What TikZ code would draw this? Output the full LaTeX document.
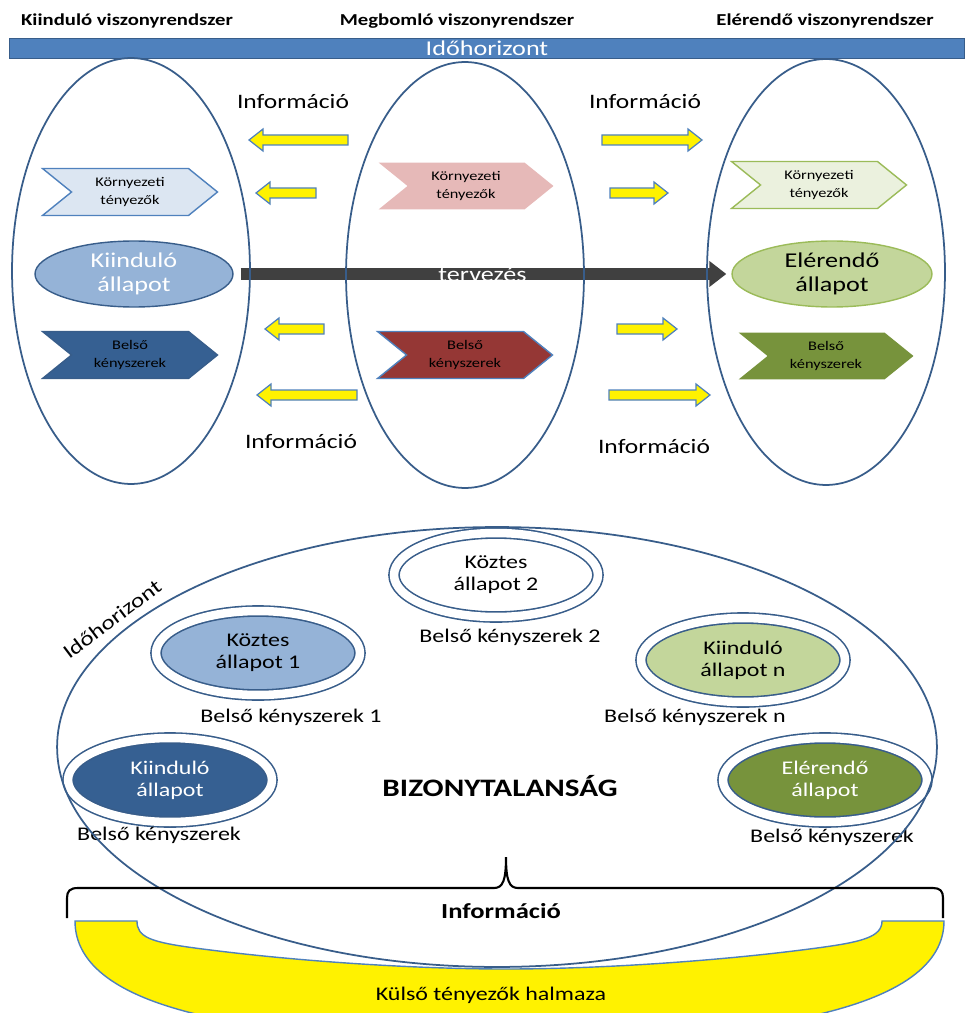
\documentclass[tikz,border=0pt]{standalone}
\usepackage{fontspec}
\setmainfont[FakeStretch=1.24]{Carlito}
\usetikzlibrary{shapes.geometric,shapes.symbols,arrows.meta,positioning}
\definecolor{hblue}{RGB}{79,129,189}
\definecolor{hline}{RGB}{56,93,138}
\definecolor{hbluelight}{RGB}{220,230,242}
\definecolor{hbluemid}{RGB}{149,179,215}
\definecolor{hbluedark}{RGB}{54,96,146}
\definecolor{hredlight}{RGB}{230,185,184}
\definecolor{hreddark}{RGB}{149,55,53}
\definecolor{hgreen}{RGB}{155,187,89}
\definecolor{hgreenlight}{RGB}{235,241,222}
\definecolor{hgreenmid}{RGB}{195,214,155}
\definecolor{hgreendark}{RGB}{119,147,60}
\definecolor{hgray}{RGB}{64,64,64}
\begin{document}
\begin{tikzpicture}[x=0.02cm,y=-0.02cm,
      heading/.style={font=\fontsize{9.5}{11}\selectfont\bfseries},
      system/.style={
         ellipse,
         draw=hline,
         line width=1pt,
         minimum width=4.76cm,
         minimum height=8.52cm,
         inner sep=0pt
      },
      factor/.style={
         signal,
         signal from=west,
         signal to=east,
         signal pointer angle=78,
         minimum width=3.5cm,
         minimum height=0.94cm,
         inner sep=0pt,
         line width=0.8pt,
         align=center,
         font=\fontsize{7.5}{9.7}\selectfont
      },
      allapot/.style={
         ellipse,
         line width=0.8pt,
         minimum width=3.96cm,
         minimum height=1.32cm,
         inner sep=0pt,
         align=center,
         font=\fontsize{12}{13.6}\selectfont
      },
      ring/.style={
         ellipse,
         draw=hline,
         line width=0.9pt,
         double=white,
         double distance=0.17cm,
         minimum width=4.08cm,
         minimum height=1.68cm,
         inner sep=0pt,
         align=center,
         font=\fontsize{11}{12.5}\selectfont
      },
      infotext/.style={font=\fontsize{11.7}{14}\selectfont},
      constraint/.style={font=\fontsize{11}{13}\selectfont},
      infoarrow/.style={draw=hblue, fill=yellow, line width=0.7pt, line join=miter},
      plan/.style={draw=hgray, line width=0.26cm, -{Triangle[length=0.34cm,width=0.5cm]},
         shorten <=0.14cm, shorten >=0.1cm}
    ]
    \useasboundingbox (0,0) rectangle (971,1013);
    \clip (0,0) rectangle (971,1013);
    % headings and time bar
    \node[heading] (head1) at (127,21) {Kiinduló viszonyrendszer};
    \node[heading] (head2) at (457,21) {Megbomló viszonyrendszer};
    \node[heading] (head3) at (825,21) {Elérendő viszonyrendszer};
    \node[draw=hline, fill=hblue, minimum width=19.1cm, minimum height=0.4cm, inner sep=0pt,
          text=white, font=\fontsize{12}{14}\selectfont] (bar) at (487,48) {Időhorizont};
    % factors
    \node[factor, draw=hblue, fill=hbluelight] (env1) at (130,192) {Környezeti\\tényezők};
    \node[factor, draw=hline, fill=hbluedark] (con1) at (130,355) {Belső\\kényszerek};
    \node[factor, fill=hredlight] (env2) at (466,186) {Környezeti\\tényezők};
    \node[factor, draw=hblue, fill=hreddark] (con2) at (465,355) {Belső\\kényszerek};
    \node[factor, draw=hgreen, fill=hgreenlight] (env3) at (819,185) {Környezeti\\tényezők};
    \node[factor, fill=hgreendark] (con3) at (826,356) {Belső\\kényszerek};
    % states
    \node[allapot, draw=hline, fill=hbluemid, text=white] (start) at (134,274) {Kiinduló\\állapot};
    \node[allapot, draw=hgreen, fill=hgreenmid, minimum width=4cm] (goal) at (832,274) {Elérendő\\állapot};
    \draw[plan] (start) -- (goal)
       node[midway, text=white, font=\fontsize{12}{14}\selectfont] (plantext) {tervezés};
    % information arrows
    \foreach \t/\e/\y in {249/348/140, 256/316/193, 265/324/329, 257/357/395,
                          702/602/140, 668/610/193, 677/617/329, 710/609/395} {
       \pgfmathsetmacro\h{\t+14*sign(\e-\t)}
       \draw[infoarrow] (\e,\y-5) -- (\h,\y-5) -- (\h,\y-11) -- (\t,\y)
          -- (\h,\y+11) -- (\h,\y+5) -- (\e,\y+5) -- cycle;
    }
    \node[infotext] (info1) at (293,102) {Információ};
    \node[infotext] (info2) at (645,102) {Információ};
    \node[infotext] (info3) at (301,442) {Információ};
    \node[infotext] (info4) at (654,447) {Információ};
    \node[system] (sys1) at (131,271) {};
    \node[system] (sys2) at (465,275) {};
    \node[system] (sys3) at (826,272) {};
    % lower diagram
    \node[ring] (mid2) at (496,575) {Köztes\\állapot 2};
    \node[ring, fill=hbluemid] (mid1) at (258,653) {Köztes\\állapot 1};
    \node[ring, fill=hgreenmid] (midn) at (743,660) {Kiinduló\\állapot n};
    \node[ring, fill=hbluedark, text=white] (start2) at (170,780) {Kiinduló\\állapot};
    \node[ring, fill=hgreendark, text=white] (goal2) at (825,780) {Elérendő\\állapot};
    \node[constraint] (c2) at (510,637) {Belső kényszerek 2};
    \node[constraint] (c1) at (291,717) {Belső kényszerek 1};
    \node[constraint] (cn) at (695,717) {Belső kényszerek n};
    \node[constraint] (c0) at (159,835) {Belső kényszerek};
    \node[constraint] (cg) at (832,837) {Belső kényszerek};
    \node[font=\fontsize{14.3}{16}\selectfont\bfseries] (unc) at (500,786) {BIZONYTALANSÁG};
    \node[ellipse, draw=hline, line width=1pt, minimum width=17.6cm, minimum height=8.8cm] (horizon) at (497,747) {};
    \node[rotate=37, font=\fontsize{11.5}{13}\selectfont] (hzlabel) at (112,619) {Időhorizont};
    % brace
    \draw[line width=1.2pt] (67,918) -- (67,898) .. controls (67,891) and (70,888) .. (78,888)
       -- (494,888) .. controls (503,888) and (506,880) .. (506,857)
       .. controls (506,880) and (509,888) .. (518,888) -- (933,888)
       .. controls (940,888) and (943,891) .. (943,898) -- (943,918);
    \node[font=\fontsize{12.2}{14}\selectfont\bfseries] (info) at (501,911) {Információ};
    % outer factors
    \draw[fill=yellow, draw=hblue, line width=0.8pt] (75,921) -- (137,921)
       .. controls (137,937) and (150,942) .. (195,948)
       .. controls (300,962) and (420,969) .. (506,969)
       .. controls (592,969) and (712,962) .. (817,948)
       .. controls (862,942) and (882,937) .. (882,921) -- (944,921)
       .. controls (944,1010) and (760,1040) .. (506,1040)
       .. controls (252,1040) and (75,1010) .. (75,921) -- cycle;
    \node[font=\fontsize{11}{13}\selectfont] (outer) at (491,995) {Külső tényezők halmaza};
\end{tikzpicture}
\end{document}
